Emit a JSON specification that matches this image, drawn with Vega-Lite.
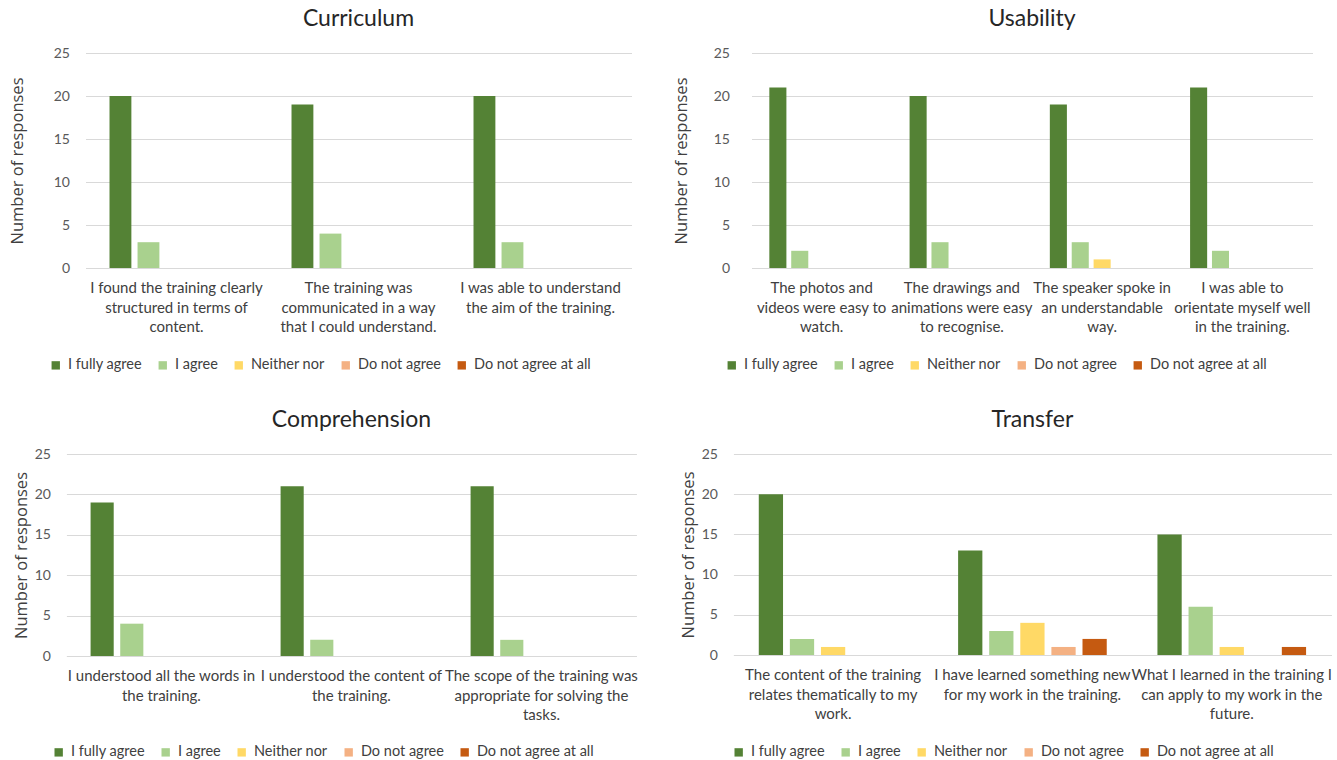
{
  "$schema": "https://vega.github.io/schema/vega-lite/v6.json",
  "background": "white",
  "padding": {"left": 9, "top": 8, "right": 2, "bottom": 5},
  "data": {
    "values": [
      {"theme": "Curriculum", "statement": "I found the training clearly structured in terms of content.", "response": "I fully agree", "count": 20},
      {"theme": "Curriculum", "statement": "I found the training clearly structured in terms of content.", "response": "I agree", "count": 3},
      {"theme": "Curriculum", "statement": "I found the training clearly structured in terms of content.", "response": "Neither nor", "count": 0},
      {"theme": "Curriculum", "statement": "I found the training clearly structured in terms of content.", "response": "Do not agree", "count": 0},
      {"theme": "Curriculum", "statement": "I found the training clearly structured in terms of content.", "response": "Do not agree at all", "count": 0},
      {"theme": "Curriculum", "statement": "The training was communicated in a way that I could understand.", "response": "I fully agree", "count": 19},
      {"theme": "Curriculum", "statement": "The training was communicated in a way that I could understand.", "response": "I agree", "count": 4},
      {"theme": "Curriculum", "statement": "The training was communicated in a way that I could understand.", "response": "Neither nor", "count": 0},
      {"theme": "Curriculum", "statement": "The training was communicated in a way that I could understand.", "response": "Do not agree", "count": 0},
      {"theme": "Curriculum", "statement": "The training was communicated in a way that I could understand.", "response": "Do not agree at all", "count": 0},
      {"theme": "Curriculum", "statement": "I was able to understand the aim of the training.", "response": "I fully agree", "count": 20},
      {"theme": "Curriculum", "statement": "I was able to understand the aim of the training.", "response": "I agree", "count": 3},
      {"theme": "Curriculum", "statement": "I was able to understand the aim of the training.", "response": "Neither nor", "count": 0},
      {"theme": "Curriculum", "statement": "I was able to understand the aim of the training.", "response": "Do not agree", "count": 0},
      {"theme": "Curriculum", "statement": "I was able to understand the aim of the training.", "response": "Do not agree at all", "count": 0},

      {"theme": "Usability", "statement": "The photos and videos were easy to watch.", "response": "I fully agree", "count": 21},
      {"theme": "Usability", "statement": "The photos and videos were easy to watch.", "response": "I agree", "count": 2},
      {"theme": "Usability", "statement": "The photos and videos were easy to watch.", "response": "Neither nor", "count": 0},
      {"theme": "Usability", "statement": "The photos and videos were easy to watch.", "response": "Do not agree", "count": 0},
      {"theme": "Usability", "statement": "The photos and videos were easy to watch.", "response": "Do not agree at all", "count": 0},
      {"theme": "Usability", "statement": "The drawings and animations were easy to recognise.", "response": "I fully agree", "count": 20},
      {"theme": "Usability", "statement": "The drawings and animations were easy to recognise.", "response": "I agree", "count": 3},
      {"theme": "Usability", "statement": "The drawings and animations were easy to recognise.", "response": "Neither nor", "count": 0},
      {"theme": "Usability", "statement": "The drawings and animations were easy to recognise.", "response": "Do not agree", "count": 0},
      {"theme": "Usability", "statement": "The drawings and animations were easy to recognise.", "response": "Do not agree at all", "count": 0},
      {"theme": "Usability", "statement": "The speaker spoke in an understandable way.", "response": "I fully agree", "count": 19},
      {"theme": "Usability", "statement": "The speaker spoke in an understandable way.", "response": "I agree", "count": 3},
      {"theme": "Usability", "statement": "The speaker spoke in an understandable way.", "response": "Neither nor", "count": 1},
      {"theme": "Usability", "statement": "The speaker spoke in an understandable way.", "response": "Do not agree", "count": 0},
      {"theme": "Usability", "statement": "The speaker spoke in an understandable way.", "response": "Do not agree at all", "count": 0},
      {"theme": "Usability", "statement": "I was able to orientate myself well in the training.", "response": "I fully agree", "count": 21},
      {"theme": "Usability", "statement": "I was able to orientate myself well in the training.", "response": "I agree", "count": 2},
      {"theme": "Usability", "statement": "I was able to orientate myself well in the training.", "response": "Neither nor", "count": 0},
      {"theme": "Usability", "statement": "I was able to orientate myself well in the training.", "response": "Do not agree", "count": 0},
      {"theme": "Usability", "statement": "I was able to orientate myself well in the training.", "response": "Do not agree at all", "count": 0},

      {"theme": "Comprehension", "statement": "I understood all the words in the training.", "response": "I fully agree", "count": 19},
      {"theme": "Comprehension", "statement": "I understood all the words in the training.", "response": "I agree", "count": 4},
      {"theme": "Comprehension", "statement": "I understood all the words in the training.", "response": "Neither nor", "count": 0},
      {"theme": "Comprehension", "statement": "I understood all the words in the training.", "response": "Do not agree", "count": 0},
      {"theme": "Comprehension", "statement": "I understood all the words in the training.", "response": "Do not agree at all", "count": 0},
      {"theme": "Comprehension", "statement": "I understood the content of the training.", "response": "I fully agree", "count": 21},
      {"theme": "Comprehension", "statement": "I understood the content of the training.", "response": "I agree", "count": 2},
      {"theme": "Comprehension", "statement": "I understood the content of the training.", "response": "Neither nor", "count": 0},
      {"theme": "Comprehension", "statement": "I understood the content of the training.", "response": "Do not agree", "count": 0},
      {"theme": "Comprehension", "statement": "I understood the content of the training.", "response": "Do not agree at all", "count": 0},
      {"theme": "Comprehension", "statement": "The scope of the training was appropriate for solving the tasks.", "response": "I fully agree", "count": 21},
      {"theme": "Comprehension", "statement": "The scope of the training was appropriate for solving the tasks.", "response": "I agree", "count": 2},
      {"theme": "Comprehension", "statement": "The scope of the training was appropriate for solving the tasks.", "response": "Neither nor", "count": 0},
      {"theme": "Comprehension", "statement": "The scope of the training was appropriate for solving the tasks.", "response": "Do not agree", "count": 0},
      {"theme": "Comprehension", "statement": "The scope of the training was appropriate for solving the tasks.", "response": "Do not agree at all", "count": 0},

      {"theme": "Transfer", "statement": "The content of the training relates thematically to my work.", "response": "I fully agree", "count": 20},
      {"theme": "Transfer", "statement": "The content of the training relates thematically to my work.", "response": "I agree", "count": 2},
      {"theme": "Transfer", "statement": "The content of the training relates thematically to my work.", "response": "Neither nor", "count": 1},
      {"theme": "Transfer", "statement": "The content of the training relates thematically to my work.", "response": "Do not agree", "count": 0},
      {"theme": "Transfer", "statement": "The content of the training relates thematically to my work.", "response": "Do not agree at all", "count": 0},
      {"theme": "Transfer", "statement": "I have learned something new for my work in the training.", "response": "I fully agree", "count": 13},
      {"theme": "Transfer", "statement": "I have learned something new for my work in the training.", "response": "I agree", "count": 3},
      {"theme": "Transfer", "statement": "I have learned something new for my work in the training.", "response": "Neither nor", "count": 4},
      {"theme": "Transfer", "statement": "I have learned something new for my work in the training.", "response": "Do not agree", "count": 1},
      {"theme": "Transfer", "statement": "I have learned something new for my work in the training.", "response": "Do not agree at all", "count": 2},
      {"theme": "Transfer", "statement": "What I learned in the training I can apply to my work in the future.", "response": "I fully agree", "count": 15},
      {"theme": "Transfer", "statement": "What I learned in the training I can apply to my work in the future.", "response": "I agree", "count": 6},
      {"theme": "Transfer", "statement": "What I learned in the training I can apply to my work in the future.", "response": "Neither nor", "count": 1},
      {"theme": "Transfer", "statement": "What I learned in the training I can apply to my work in the future.", "response": "Do not agree", "count": 0},
      {"theme": "Transfer", "statement": "What I learned in the training I can apply to my work in the future.", "response": "Do not agree at all", "count": 1}
    ]
  },
  "spacing": 37,
  "center": true,
  "bounds": "full",
  "vconcat": [
    {
      "spacing": 41,
      "hconcat": [
        {
          "title": "Curriculum",
          "width": 546,
          "height": 215,
          "transform": [{"filter": "datum.theme === 'Curriculum'"}],
          "mark": {"type": "bar"},
          "encoding": {
            "x": {
              "field": "statement", "type": "nominal", "sort": null,
              "scale": {"paddingInner": 0.23, "paddingOuter": 0.115},
              "axis": {
                "title": null,
                "labelExpr": "datum.label === 'I found the training clearly structured in terms of content.' ? ['I found the training clearly', 'structured in terms of', 'content.'] : datum.label === 'The training was communicated in a way that I could understand.' ? ['The training was', 'communicated in a way', 'that I could understand.'] : ['I was able to understand', 'the aim of the training.']"
              }
            },
            "xOffset": {
              "field": "response", "type": "nominal",
              "scale": {"domain": ["I fully agree", "I agree", "Neither nor", "Do not agree", "Do not agree at all"], "paddingInner": 0.22, "paddingOuter": 0.11}
            },
            "y": {
              "field": "count", "type": "quantitative",
              "scale": {"domain": [0, 25], "nice": false},
              "axis": {"title": "Number of responses", "values": [0, 5, 10, 15, 20, 25], "titlePadding": 28, "labelPadding": 16}
            },
            "color": {
              "field": "response", "type": "nominal",
              "scale": {"domain": ["I fully agree", "I agree", "Neither nor", "Do not agree", "Do not agree at all"], "range": ["#548235", "#A9D18E", "#FFD966", "#F4B183", "#C55A11"]},
              "legend": {"orient": "none", "legendX": -37, "legendY": 305, "direction": "horizontal", "title": null}
            }
          }
        },
        {
          "title": "Usability",
          "width": 561,
          "height": 215,
          "transform": [{"filter": "datum.theme === 'Usability'"}],
          "mark": {"type": "bar"},
          "encoding": {
            "x": {
              "field": "statement", "type": "nominal", "sort": null,
              "scale": {"paddingInner": 0.22, "paddingOuter": 0.11},
              "axis": {
                "title": null,
                "labelExpr": "datum.label === 'The photos and videos were easy to watch.' ? ['The photos and', 'videos were easy to', 'watch.'] : datum.label === 'The drawings and animations were easy to recognise.' ? ['The drawings and', 'animations were easy', 'to recognise.'] : datum.label === 'The speaker spoke in an understandable way.' ? ['The speaker spoke in', 'an understandable', 'way.'] : ['I was able to', 'orientate myself well', 'in the training.']"
              }
            },
            "xOffset": {
              "field": "response", "type": "nominal",
              "scale": {"domain": ["I fully agree", "I agree", "Neither nor", "Do not agree", "Do not agree at all"], "paddingInner": 0.22, "paddingOuter": 0.11}
            },
            "y": {
              "field": "count", "type": "quantitative",
              "scale": {"domain": [0, 25], "nice": false},
              "axis": {"title": "Number of responses", "values": [0, 5, 10, 15, 20, 25], "titlePadding": 24, "labelPadding": 22}
            },
            "color": {
              "field": "response", "type": "nominal",
              "scale": {"domain": ["I fully agree", "I agree", "Neither nor", "Do not agree", "Do not agree at all"], "range": ["#548235", "#A9D18E", "#FFD966", "#F4B183", "#C55A11"]},
              "legend": {"orient": "none", "legendX": -27, "legendY": 305, "direction": "horizontal", "title": null}
            }
          }
        }
      ],
      "resolve": {"scale": {"color": "independent", "x": "independent", "xOffset": "independent", "y": "independent"}, "legend": {"color": "independent"}}
    },
    {
      "spacing": 41,
      "hconcat": [
        {
          "title": "Comprehension",
          "width": 570,
          "height": 202,
          "transform": [{"filter": "datum.theme === 'Comprehension'"}],
          "mark": {"type": "bar"},
          "encoding": {
            "x": {
              "field": "statement", "type": "nominal", "sort": null,
              "scale": {"paddingInner": 0.22, "paddingOuter": 0.11},
              "axis": {
                "title": null,
                "labelExpr": "datum.label === 'I understood all the words in the training.' ? ['I understood all the words in', 'the training.'] : datum.label === 'I understood the content of the training.' ? ['I understood the content of', 'the training.'] : ['The scope of the training was', 'appropriate for solving the', 'tasks.']"
              }
            },
            "xOffset": {
              "field": "response", "type": "nominal",
              "scale": {"domain": ["I fully agree", "I agree", "Neither nor", "Do not agree", "Do not agree at all"], "paddingInner": 0.22, "paddingOuter": 0.11}
            },
            "y": {
              "field": "count", "type": "quantitative",
              "scale": {"domain": [0, 25], "nice": false},
              "axis": {"title": "Number of responses", "values": [0, 5, 10, 15, 20, 25], "titlePadding": 5, "labelPadding": 16}
            },
            "color": {
              "field": "response", "type": "nominal",
              "scale": {"domain": ["I fully agree", "I agree", "Neither nor", "Do not agree", "Do not agree at all"], "range": ["#548235", "#A9D18E", "#FFD966", "#F4B183", "#C55A11"]},
              "legend": {"orient": "none", "legendX": -15, "legendY": 291, "direction": "horizontal", "title": null}
            }
          }
        },
        {
          "title": "Transfer",
          "width": 598,
          "height": 201,
          "transform": [{"filter": "datum.theme === 'Transfer'"}],
          "mark": {"type": "bar"},
          "encoding": {
            "x": {
              "field": "statement", "type": "nominal", "sort": null,
              "scale": {"paddingInner": 0.22, "paddingOuter": 0.11},
              "axis": {
                "title": null,
                "labelExpr": "datum.label === 'The content of the training relates thematically to my work.' ? ['The content of the training', 'relates thematically to my', 'work.'] : datum.label === 'I have learned something new for my work in the training.' ? ['I have learned something new', 'for my work in the training.'] : ['What I learned in the training I', 'can apply to my work in the', 'future.']"
              }
            },
            "xOffset": {
              "field": "response", "type": "nominal",
              "scale": {"domain": ["I fully agree", "I agree", "Neither nor", "Do not agree", "Do not agree at all"], "paddingInner": 0.22, "paddingOuter": 0.11}
            },
            "y": {
              "field": "count", "type": "quantitative",
              "scale": {"domain": [0, 25], "nice": false},
              "axis": {"title": "Number of responses", "values": [0, 5, 10, 15, 20, 25], "titlePadding": 5, "labelPadding": 16}
            },
            "color": {
              "field": "response", "type": "nominal",
              "scale": {"domain": ["I fully agree", "I agree", "Neither nor", "Do not agree", "Do not agree at all"], "range": ["#548235", "#A9D18E", "#FFD966", "#F4B183", "#C55A11"]},
              "legend": {"orient": "none", "legendX": -2, "legendY": 291, "direction": "horizontal", "title": null}
            }
          }
        }
      ],
      "resolve": {"scale": {"color": "independent", "x": "independent", "xOffset": "independent", "y": "independent"}, "legend": {"color": "independent"}}
    }
  ],
  "resolve": {"scale": {"color": "independent", "x": "independent", "xOffset": "independent", "y": "independent"}, "legend": {"color": "independent"}},
  "config": {
    "view": {"stroke": null},
    "font": "Lato",
    "title": {"font": "Lato", "fontSize": 23, "fontWeight": "normal", "color": "#262626", "offset": 15, "anchor": "middle"},
    "axis": {
      "labelFont": "Lato", "labelFontSize": 15, "labelColor": "#404040",
      "titleFont": "Open Sans", "titleFontSize": 16.5, "titleFontWeight": "normal", "titleColor": "#404040",
      "gridColor": "#D9D9D9", "domainColor": "#D9D9D9", "ticks": false
    },
    "axisY": {"domain": false, "grid": true, "labelColor": "#595959", "labelFontSize": 14},
    "axisX": {"grid": false, "domain": true, "labelAngle": 0, "labelPadding": 12.5, "labelLineHeight": 19.5, "labelLimit": 0, "labelOverlap": false},
    "legend": {
      "labelFont": "Lato", "labelFontSize": 14.5, "labelColor": "#404040",
      "symbolType": "square", "symbolSize": 70, "symbolStrokeWidth": 0,
      "labelOffset": 5, "columnPadding": 13
    }
  }
}
